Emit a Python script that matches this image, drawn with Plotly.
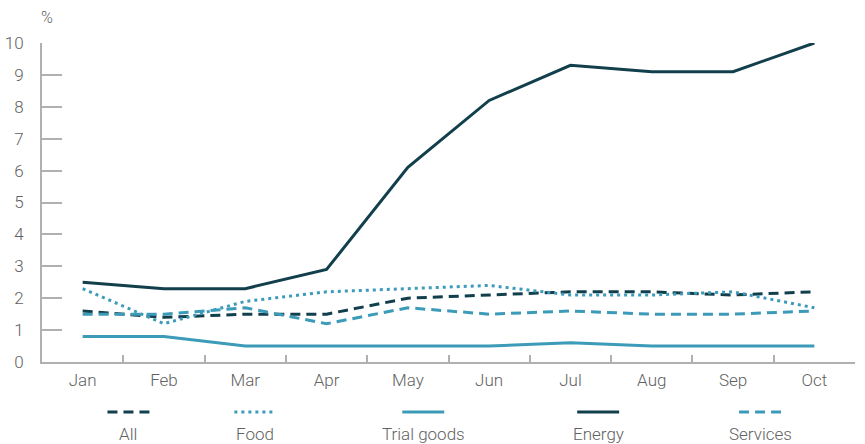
import plotly.graph_objects as go

months = ["Jan", "Feb", "Mar", "Apr", "May", "Jun", "Jul", "Aug", "Sep", "Oct"]
all_items = [1.6, 1.4, 1.5, 1.5, 2.0, 2.1, 2.2, 2.2, 2.1, 2.2]
food = [2.3, 1.2, 1.9, 2.2, 2.3, 2.4, 2.1, 2.1, 2.2, 1.7]
trial_goods = [0.8, 0.8, 0.5, 0.5, 0.5, 0.5, 0.6, 0.5, 0.5, 0.5]
energy = [2.5, 2.3, 2.3, 2.9, 6.1, 8.2, 9.3, 9.1, 9.1, 10.0]
services = [1.5, 1.5, 1.7, 1.2, 1.7, 1.5, 1.6, 1.5, 1.5, 1.6]
y_ticks = [0, 1, 2, 3, 4, 5, 6, 7, 8, 9, 10]

DARK = "#123f4c"
LIGHT = "#3c9bb8"
GREY_TEXT = "#626262"
AXIS = "#b0b0b0"
FONT = "Roboto"

series = [
    ("All", all_items, DARK, "10px,6px"),
    ("Food", food, LIGHT, "3px,4px"),
    ("Trial goods", trial_goods, LIGHT, "solid"),
    ("Energy", energy, DARK, "solid"),
    ("Services", services, LIGHT, "10px,6px"),
]

fig = go.Figure()
for name, vals, col, dash in series:
    fig.add_trace(go.Scatter(x=months, y=vals, name=name, mode="lines",
                             line=dict(color=col, width=3, dash=dash),
                             showlegend=False, hoverinfo="skip"))

W, H = 865, 444
ml, mr, mt, mb = 41.5, 10, 43, 82
PW, PH = W - ml - mr, H - mt - mb
plot_bottom = H - mb  # 362


def px_x(page_x):
    return (page_x - ml) / PW


def px_y(page_y):
    return (plot_bottom - page_y) / PH


leg_x = [128, 255, 423, 598, 760]
for (name, vals, col, dash), cx in zip(series, leg_x):
    half = 21 / PW
    fig.add_shape(type="line", xref="paper", yref="paper",
                  x0=px_x(cx) - half, x1=px_x(cx) + half,
                  y0=px_y(412), y1=px_y(412),
                  line=dict(color=col, width=3, dash=dash))
    fig.add_annotation(text=name, xref="paper", yref="paper",
                       x=px_x(cx), y=px_y(434),
                       showarrow=False, xanchor="center", yanchor="middle",
                       font=dict(family=FONT, size=17, color=GREY_TEXT, weight=300))

fig.add_annotation(text="%", xref="paper", yref="paper",
                   x=px_x(47), y=px_y(17),
                   showarrow=False, xanchor="center", yanchor="middle",
                   font=dict(family=FONT, size=16, color=GREY_TEXT, weight=300))

fig.update_layout(
    width=W, height=H,
    margin=dict(l=ml, r=mr, t=mt, b=mb),
    plot_bgcolor="white", paper_bgcolor="white",
    font=dict(family=FONT, size=17, color=GREY_TEXT, weight=300),
)
fig.update_xaxes(type="category", range=[-0.5, 9.5], tickson="boundaries",
                 ticks="inside", ticklen=7, tickcolor=AXIS, tickwidth=1.5,
                 showline=True, linecolor=AXIS, linewidth=2, showgrid=False,
                 zeroline=False, ticklabelstandoff=2, automargin=False)
fig.update_yaxes(range=[0, 10], tickvals=y_ticks, ticks="inside", ticklen=20,
                 tickcolor=AXIS, tickwidth=1.5, showline=True, linecolor=AXIS,
                 linewidth=2, showgrid=False, zeroline=False,
                 ticklabelstandoff=13, automargin=False)

fig.write_html("out.html", config={"displayModeBar": False},
               post_script="document.body.style.margin='0';")
